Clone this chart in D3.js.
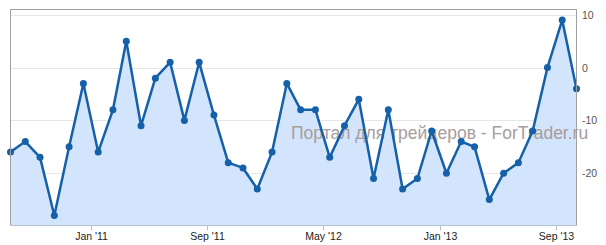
<!DOCTYPE html>
<html lang="ru">
<head>
  <meta charset="UTF-8">
  <title>Chart</title>
  <script src="https://d3js.org/d3.v7.min.js"></script>
  <style>
    body { margin: 0; background: #fff; }
    text { font-family: "Liberation Sans", Arial, sans-serif; }
  </style>
</head>
<body>
<div class="canvas"></div>
<script>
  // monthly values, Jul 2010 .. Oct 2013
  const startMonth = '2010-07-15'
  const values = [
    -16, -14, -17, -28, -15, -3, -16, -8, 5, -11, -2, 1,
    -10, 1, -9, -18, -19, -23, -16, -3, -8, -8, -17, -11,
    -6, -21, -8, -23, -21, -12, -20, -14, -15, -25, -20, -18,
    -12, 0, 9, -4
  ]
  const yTicks = [-20, -10, 0, 10]
  const xTicks = ['2011-01-01', '2011-09-01', '2012-05-01', '2013-01-01', '2013-09-01']
  const watermark = 'Портал для трейдеров - ForTrader.ru'

  const width = 606, height = 245
  const plot = {left: 10.5, right: 576.5, top: 9.5, bottom: 225.5}

  const parse = d3.utcParse('%Y-%m-%d')
  const t0 = parse(startMonth)
  const data = values.map((v, i) => ({date: d3.utcMonth.offset(t0, i), value: v}))

  const svg = d3.select('.canvas')
    .append('svg')
    .attr('width', width)
    .attr('height', height)

  const x = d3.scaleUtc()
    .domain(d3.extent(data, d => d.date))
    .range([plot.left, plot.right])

  const y = d3.scaleLinear()
    .domain([-29.9, 11])
    .range([plot.bottom, plot.top])

  // gridlines
  svg.append('g')
    .selectAll('line')
    .data(yTicks)
    .enter()
    .append('line')
    .attr('x1', plot.left).attr('x2', plot.right)
    .attr('y1', d => Math.round(y(d)) + 0.5)
    .attr('y2', d => Math.round(y(d)) + 0.5)
    .attr('stroke', '#e6e6e6')

  // area + line
  const area = d3.area()
    .x(d => x(d.date))
    .y0(plot.bottom)
    .y1(d => y(d.value))

  svg.append('path')
    .datum(data)
    .attr('fill', '#d3e5fc')
    .attr('d', area)

  svg.append('text')
    .attr('x', 291)
    .attr('y', 139)
    .attr('fill', '#a89d9d')
    .style('font-size', '17.5px')
    .text(watermark)

  const line = d3.line()
    .x(d => x(d.date))
    .y(d => y(d.value))

  svg.append('path')
    .datum(data)
    .attr('fill', 'none')
    .attr('stroke', '#1560a9')
    .attr('stroke-width', 2.5)
    .attr('stroke-linejoin', 'round')
    .attr('d', line)

  svg.append('g')
    .selectAll('circle')
    .data(data)
    .enter()
    .append('circle')
    .attr('cx', d => x(d.date))
    .attr('cy', d => y(d.value))
    .attr('r', 3.5)
    .attr('fill', '#1560a9')

  // plot border (left, top, right)
  svg.append('path')
    .attr('d', `M${plot.left},${plot.bottom}V${plot.top}H${plot.right}V${plot.bottom}`)
    .attr('fill', 'none')
    .attr('stroke', '#a0a0a0')

  // x axis
  const xAxis = svg.append('g')
  xAxis.append('line')
    .attr('x1', plot.left).attr('x2', plot.right)
    .attr('y1', plot.bottom).attr('y2', plot.bottom)
    .attr('stroke', '#b4c2d2')

  const xt = xAxis.selectAll('g')
    .data(xTicks.map(parse))
    .enter()
    .append('g')
    .attr('transform', d => `translate(${Math.round(x(d)) + 0.5}, 0)`)

  xt.append('line')
    .attr('y1', plot.bottom).attr('y2', plot.bottom + 5)
    .attr('stroke', '#b4c2d2')

  xt.append('text')
    .attr('y', 240)
    .attr('text-anchor', 'middle')
    .attr('fill', '#222')
    .style('font-size', '10.5px')
    .text(d3.utcFormat("%b '%y"))

  // y axis labels (right)
  svg.append('g')
    .selectAll('text')
    .data(yTicks)
    .enter()
    .append('text')
    .attr('x', 582)
    .attr('y', d => y(d) + 4)
    .attr('fill', '#555')
    .style('font-size', '10.5px')
    .text(d => d)
</script>
</body>
</html>
